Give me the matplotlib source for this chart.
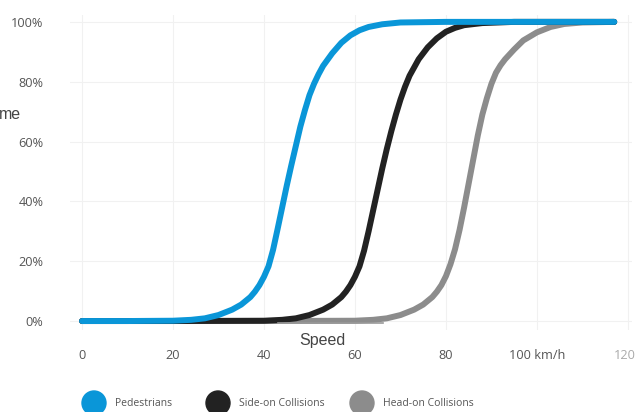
import matplotlib
matplotlib.use("Agg")
import matplotlib.pyplot as plt
from matplotlib.patches import Circle
from matplotlib.transforms import ScaledTranslation

plt.rcParams['font.family'] = ['Open Sans', 'DejaVu Sans']

# speed (km/h) against share of fatal outcomes (%)
ped_speed = [0, 10, 20, 24, 27, 30, 33, 35, 37, 38, 39, 40, 41, 42, 43, 44,
             45, 46, 47, 48, 49, 50, 51, 52, 53, 55, 57, 59, 61, 63, 66, 70,
             80, 117]
ped_pct = [0, 0, 0.1, 0.4, 0.9, 2.0, 3.8, 5.5, 8.0, 9.8, 12.0, 14.8, 18.3,
           23.8, 30.8, 38.0, 45.2, 52, 58.5, 65, 70.5, 75.5, 79.3, 82.5, 85.3,
           89.5, 93, 95.5, 97.2, 98.3, 99.2, 99.8, 100, 100]

side_speed = [0, 20, 40, 44, 47, 50, 53, 55, 57, 58, 59, 60, 61, 62, 63, 64,
              65, 66, 67, 68, 69, 70, 71, 72, 74, 76, 78, 80, 82, 84, 88, 95,
              117]
side_pct = [0, 0, 0.1, 0.4, 0.9, 2.0, 3.8, 5.5, 8.0, 9.8, 12.0, 14.8, 18.3,
            23.5, 30, 37, 44, 51, 57.5, 63.5, 69, 74, 78.3, 82, 87.5, 91.5,
            94.5, 96.7, 98, 98.9, 99.6, 100, 100]

head_speed = [0, 40, 60, 64, 67, 70, 73, 75, 77, 78, 79, 80, 81, 82, 83, 84,
              85, 86, 87, 88, 89, 90, 91, 92, 93, 95, 97, 100, 103, 106, 110,
              117]
head_pct = [0, 0, 0.1, 0.4, 0.9, 2.0, 3.8, 5.5, 8.0, 9.8, 12.0, 15.0, 19,
            24, 30.5, 38, 46, 54, 62, 69, 74.5, 79.3, 83, 85.5, 87.5, 90.8,
            93.8, 96.5, 98.3, 99.3, 99.8, 100]

series_names = ["Pedestrians", "Side-on Collisions", "Head-on Collisions"]
series_colors = ["#0a96d8", "#222222", "#8c8c8c"]

x_ticks = [0, 20, 40, 60, 80, 100, 120]
x_labels = ["0", "20", "40", "60", "80", "100 km/h", "120"]
y_ticks = [0, 20, 40, 60, 80, 100]
y_labels = ["0%", "20%", "40%", "60%", "80%", "100%"]

W, H = 636, 412
fig = plt.figure(figsize=(W / 100, H / 100), dpi=100)
ax = fig.add_axes([70 / W, 1 - 330 / H, 562 / W, 315 / H])

series = [(ped_speed, ped_pct), (side_speed, side_pct), (head_speed, head_pct)]
for i, ((xs, ys), color) in enumerate(zip(series, series_colors)):
    ax.plot(xs, ys, color=color, lw=4.3, solid_capstyle='round',
            solid_joinstyle='round', zorder=5 - i)

ax.set_xlim(-2.64, 120.9)
ax.set_ylim(-3.0, 102.3)
ax.set_xticks(x_ticks)
ax.set_xticklabels(x_labels)
ax.set_yticks(y_ticks)
ax.set_yticklabels(y_labels)
ax.tick_params(length=0, labelsize=9.2, colors="#555555")
ax.tick_params(axis='x', pad=14)
ax.tick_params(axis='y', pad=19)

# last tick label sits against the right edge
last = ax.get_xticklabels()[-1]
last.set_color("#aaaaaa")
last.set_horizontalalignment('right')
last.set_transform(last.get_transform() +
                   ScaledTranslation(8 / 100, 0, fig.dpi_scale_trans))

ax.grid(True, color="#f1f1f1", lw=0.8)
ax.set_axisbelow(True)
for s in ax.spines.values():
    s.set_visible(False)

# overlay in pixel coordinates for the axis title, clipped label and legend
ov = fig.add_axes([0, 0, 1, 1], facecolor='none')
ov.set_xlim(0, W)
ov.set_ylim(H, 0)
ov.axis('off')

ov.plot([278, 383], [322.5, 322.5], color="#999999", lw=1.2)
ov.text(322, 341, "Speed", ha='center', va='center', fontsize=11.5,
        color="#444444", family=['Liberation Sans'])
ov.text(-1, 114, "me", ha='left', va='center', fontsize=11.5,
        color="#444444", family=['Liberation Sans'])

legend_x = [94, 218, 362]
for cx, name, color in zip(legend_x, series_names, series_colors):
    ov.add_patch(Circle((cx, 403), 12, color=color, clip_on=False))
    ov.text(cx + 21, 403, name, ha='left', va='center', fontsize=7.5,
            color="#555555")

fig.savefig("out.png", dpi=100)
